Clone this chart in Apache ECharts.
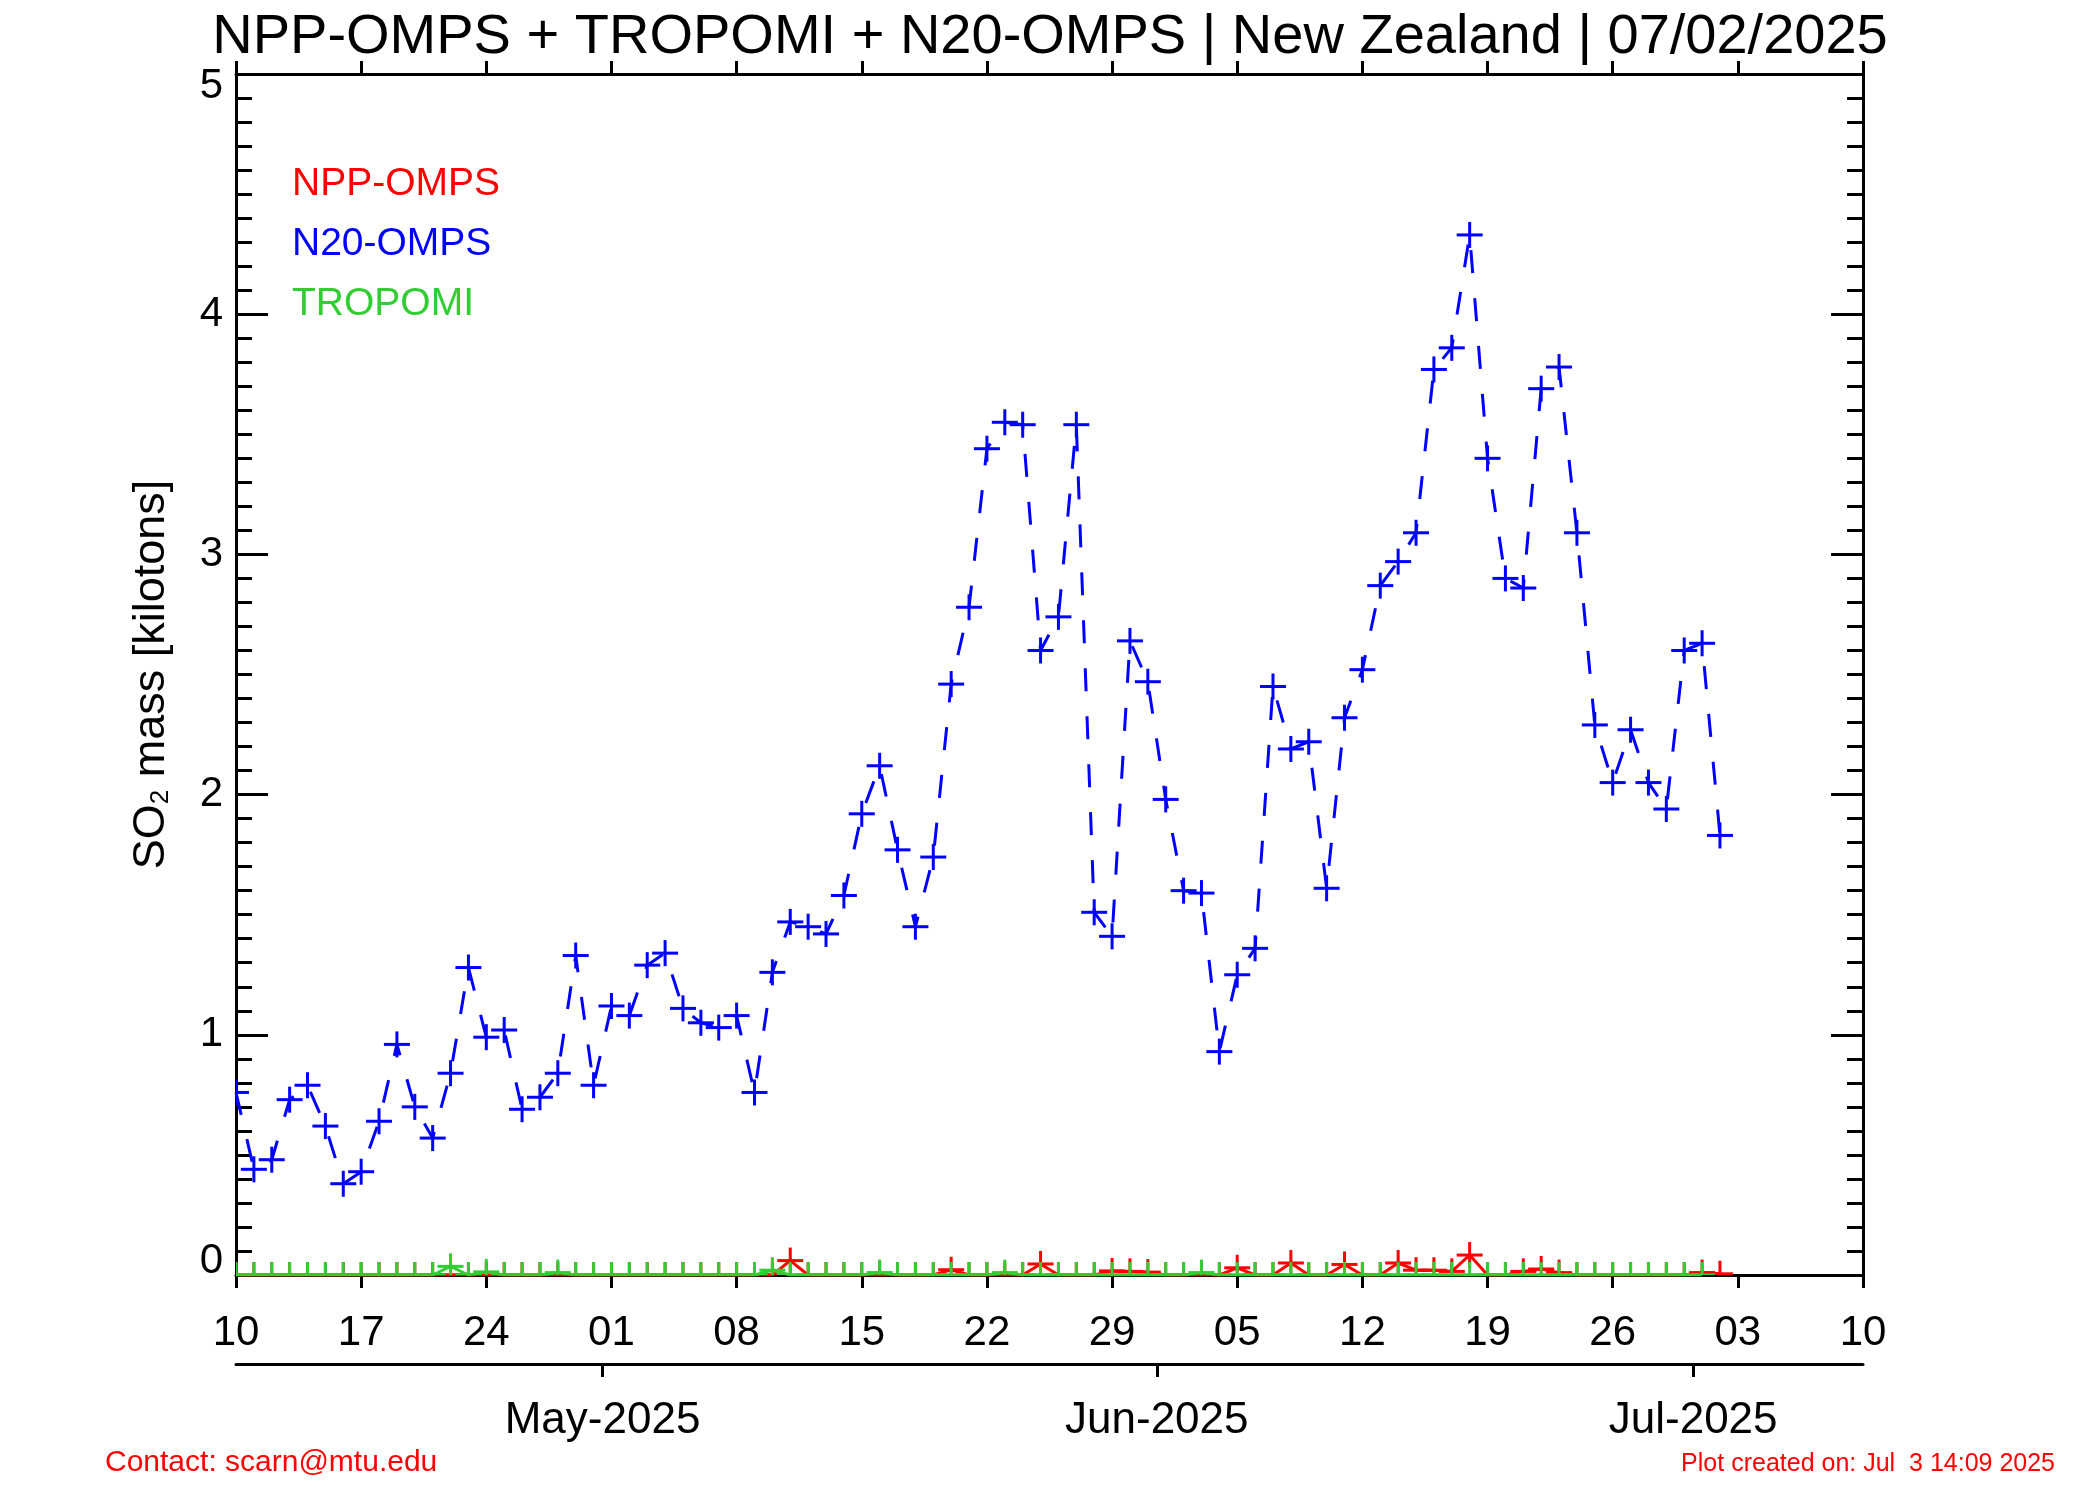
<!DOCTYPE html>
<html>
<head>
<meta charset="utf-8">
<title>SO2 mass - New Zealand</title>
<script src="https://cdn.jsdelivr.net/npm/echarts@6/dist/echarts.min.js"></script>
<style>
  html, body { margin: 0; padding: 0; background: #fff; }
  #chart { width: 2100px; height: 1500px; }
</style>
</head>
<body>
<div id="chart"></div>
<script>
// x = days since firstDay, one value per day
const firstDay = '2025-04-10'
const lastDay = 91 // 10 Jul 2025

const weekLabels = ['10', '17', '24', '01', '08', '15', '22', '29', '05', '12', '19', '26', '03', '10']
const monthDays = [20.5, 51.5, 81.5]
const monthLabels = ['May-2025', 'Jun-2025', 'Jul-2025']

// N20-OMPS, 10 Apr .. 2 Jul (rows = weeks)
const n20Omps = [
  0.76, 0.44, 0.48, 0.73, 0.79, 0.62, 0.38,
  0.43, 0.64, 0.96, 0.70, 0.57, 0.84, 1.28,
  0.99, 1.02, 0.69, 0.74, 0.84, 1.33, 0.79,
  1.12, 1.08, 1.29, 1.34, 1.11, 1.05, 1.03,
  1.08, 0.76, 1.26, 1.47, 1.45, 1.42, 1.58,
  1.92, 2.12, 1.77, 1.45, 1.74, 2.46, 2.78,
  3.44, 3.55, 3.54, 2.60, 2.74, 3.54, 1.51,
  1.41, 2.64, 2.47, 1.98, 1.60, 1.59, 0.93,
  1.25, 1.36, 2.45, 2.19, 2.22, 1.61, 2.32,
  2.52, 2.87, 2.97, 3.09, 3.77, 3.86, 4.33,
  3.40, 2.90, 2.86, 3.69, 3.78, 3.09, 2.29,
  2.05, 2.27, 2.05, 1.94, 2.60, 2.63, 1.83
]

// NPP-OMPS, 10 Apr .. 2 Jul
const nppOmps = [
  0, 0, 0, 0, 0, 0, 0,
  0, 0, 0, 0, 0, 0, 0,
  0, 0, 0, 0, 0, 0, 0,
  0, 0, 0, 0, 0, 0, 0,
  0, 0, 0, 0.06, 0, 0, 0,
  0, 0, 0, 0, 0, 0.022, 0,
  0, 0, 0, 0.046, 0, 0, 0,
  0.017, 0.015, 0.012, 0, 0, 0, 0,
  0.03, 0, 0, 0.05, 0, 0, 0.044,
  0, 0, 0.05, 0.02, 0.02, 0.015, 0.083,
  0, 0, 0.015, 0.025, 0.01, 0, 0,
  0, 0, 0, 0, 0, 0.01, 0.005
]

// TROPOMI, 10 Apr .. 1 Jul
const tropomi = [
  0, 0, 0, 0, 0, 0, 0,
  0, 0, 0, 0, 0, 0.036, 0,
  0.013, 0, 0, 0, 0.01, 0, 0,
  0, 0, 0, 0, 0, 0, 0,
  0, 0, 0.02, 0, 0, 0, 0,
  0, 0.01, 0, 0, 0, 0, 0,
  0, 0.01, 0, 0, 0, 0, 0,
  0, 0, 0, 0, 0, 0.01, 0,
  0, 0, 0, 0, 0, 0, 0,
  0, 0, 0, 0, 0, 0, 0,
  0, 0, 0, 0, 0, 0, 0,
  0, 0, 0, 0, 0, 0
]

const RED = '#ff0000'
const BLUE = '#0000ff'
const GREEN = '#32cd32'
const FONT = '"Liberation Sans", Arial, Helvetica, sans-serif'

const toPairs = (arr) => arr.map((v, i) => [i, v])

// IDL style "+" marker, clipped to the plot box
function plusMarker (color) {
  return function (params, api) {
    const p = api.coord([api.value(0), api.value(1)])
    const r = 13
    const style = { stroke: color, lineWidth: 3 }
    return {
      type: 'group',
      children: [
        { type: 'line', shape: { x1: p[0] - r, y1: p[1], x2: p[0] + r, y2: p[1] }, style },
        { type: 'line', shape: { x1: p[0], y1: p[1] - r, x2: p[0], y2: p[1] + r }, style }
      ]
    }
  }
}

function lineSeries (name, data, color, z, dashed) {
  return {
    name,
    type: 'line',
    data: toPairs(data),
    showSymbol: false,
    symbol: 'none',
    clip: true,
    z,
    lineStyle: { color, width: 3, type: dashed ? [23, 25] : 'solid' },
    animation: false
  }
}

function markerSeries (name, data, color, z) {
  return {
    name,
    type: 'custom',
    data: toPairs(data),
    encode: { x: 0, y: 1 },
    clip: true,
    z,
    renderItem: plusMarker(color),
    animation: false
  }
}

const black = { color: '#000', width: 3 }
const frameLine = { show: true, onZero: false, lineStyle: black }

const chart = echarts.init(document.getElementById('chart'))

chart.setOption({
  backgroundColor: '#fff',
  animation: false,
  title: {
    text: 'NPP-OMPS + TROPOMI + N20-OMPS | New Zealand | 07/02/2025',
    left: 'center',
    top: 10,
    padding: 0,
    textStyle: { fontFamily: FONT, fontSize: 56, fontWeight: 'normal', color: '#000' }
  },
  grid: { left: 236, right: 237, top: 74, bottom: 225 },
  xAxis: [
    {
      type: 'value',
      position: 'bottom',
      min: 0,
      max: lastDay,
      interval: 7,
      axisLine: frameLine,
      axisTick: { length: 13, lineStyle: black },
      axisLabel: {
        margin: 37,
        fontFamily: FONT,
        fontSize: 42,
        color: '#000',
        showMinLabel: true,
        showMaxLabel: true,
        formatter: (v) => weekLabels[Math.round(v / 7)]
      },
      splitLine: { show: false }
    },
    {
      type: 'value',
      position: 'top',
      min: 0,
      max: lastDay,
      interval: 7,
      axisLine: frameLine,
      axisTick: { length: 13, lineStyle: black },
      axisLabel: { show: false },
      splitLine: { show: false }
    },
    {
      type: 'value',
      position: 'bottom',
      offset: 89,
      min: 0,
      max: lastDay,
      axisLine: frameLine,
      axisTick: { length: 13, lineStyle: black, customValues: monthDays },
      axisLabel: {
        margin: 35,
        fontFamily: FONT,
        fontSize: 44,
        color: '#000',
        customValues: monthDays,
        formatter: (v) => monthLabels[monthDays.indexOf(v)]
      },
      splitLine: { show: false }
    }
  ],
  yAxis: [
    {
      type: 'value',
      position: 'left',
      min: 0,
      max: 5,
      interval: 1,
      axisLine: frameLine,
      axisTick: { show: true, inside: true, length: 32, lineStyle: black },
      minorTick: { show: true, splitNumber: 10, length: 16, lineStyle: black },
      splitLine: { show: false },
      axisLabel: {
        margin: 13,
        fontFamily: FONT,
        fontSize: 42,
        color: '#000',
        formatter: (v) => v === 0 ? '{lo|0}' : (v === 5 ? '{hi|5}' : String(v)),
        rich: {
          lo: { fontFamily: FONT, fontSize: 42, color: '#000', padding: [0, 0, 28, 0] },
          hi: { fontFamily: FONT, fontSize: 42, color: '#000', padding: [24, 0, 0, 0] }
        }
      },
      name: '{a|SO}{s|2}{a| mass [kilotons]}',
      nameLocation: 'middle',
      nameGap: 62,
      nameRotate: 90,
      nameTextStyle: {
        fontFamily: FONT,
        color: '#000',
        rich: {
          a: { fontFamily: FONT, fontSize: 45, lineHeight: 45, color: '#000' },
          s: { fontFamily: FONT, fontSize: 26, lineHeight: 26, color: '#000', verticalAlign: 'bottom' }
        }
      }
    },
    {
      type: 'value',
      position: 'right',
      min: 0,
      max: 5,
      interval: 1,
      axisLine: frameLine,
      axisTick: { show: true, inside: true, length: 32, lineStyle: black },
      minorTick: { show: true, splitNumber: 10, length: 16, lineStyle: black },
      splitLine: { show: false },
      axisLabel: { show: false }
    }
  ],
  series: [
    lineSeries('NPP-OMPS', nppOmps, RED, 2),
    markerSeries('NPP-OMPS', nppOmps, RED, 3),
    lineSeries('TROPOMI', tropomi, GREEN, 4),
    markerSeries('TROPOMI', tropomi, GREEN, 5),
    lineSeries('N20-OMPS', n20Omps, BLUE, 6, true),
    markerSeries('N20-OMPS', n20Omps, BLUE, 7)
  ],
  graphic: [
    { type: 'text', left: 292, top: 165, style: { text: 'NPP-OMPS', fill: RED, font: '39px ' + FONT } },
    { type: 'text', left: 292, top: 225, style: { text: 'N20-OMPS', fill: BLUE, font: '39px ' + FONT } },
    { type: 'text', left: 292, top: 285, style: { text: 'TROPOMI', fill: GREEN, font: '39px ' + FONT } },
    { type: 'text', left: 105, top: 1448, style: { text: 'Contact: scarn@mtu.edu', fill: RED, font: '30px ' + FONT } },
    { type: 'text', right: 45, top: 1452, style: { text: 'Plot created on: Jul  3 14:09 2025', fill: RED, font: '25px ' + FONT } }
  ]
})
</script>
</body>
</html>
